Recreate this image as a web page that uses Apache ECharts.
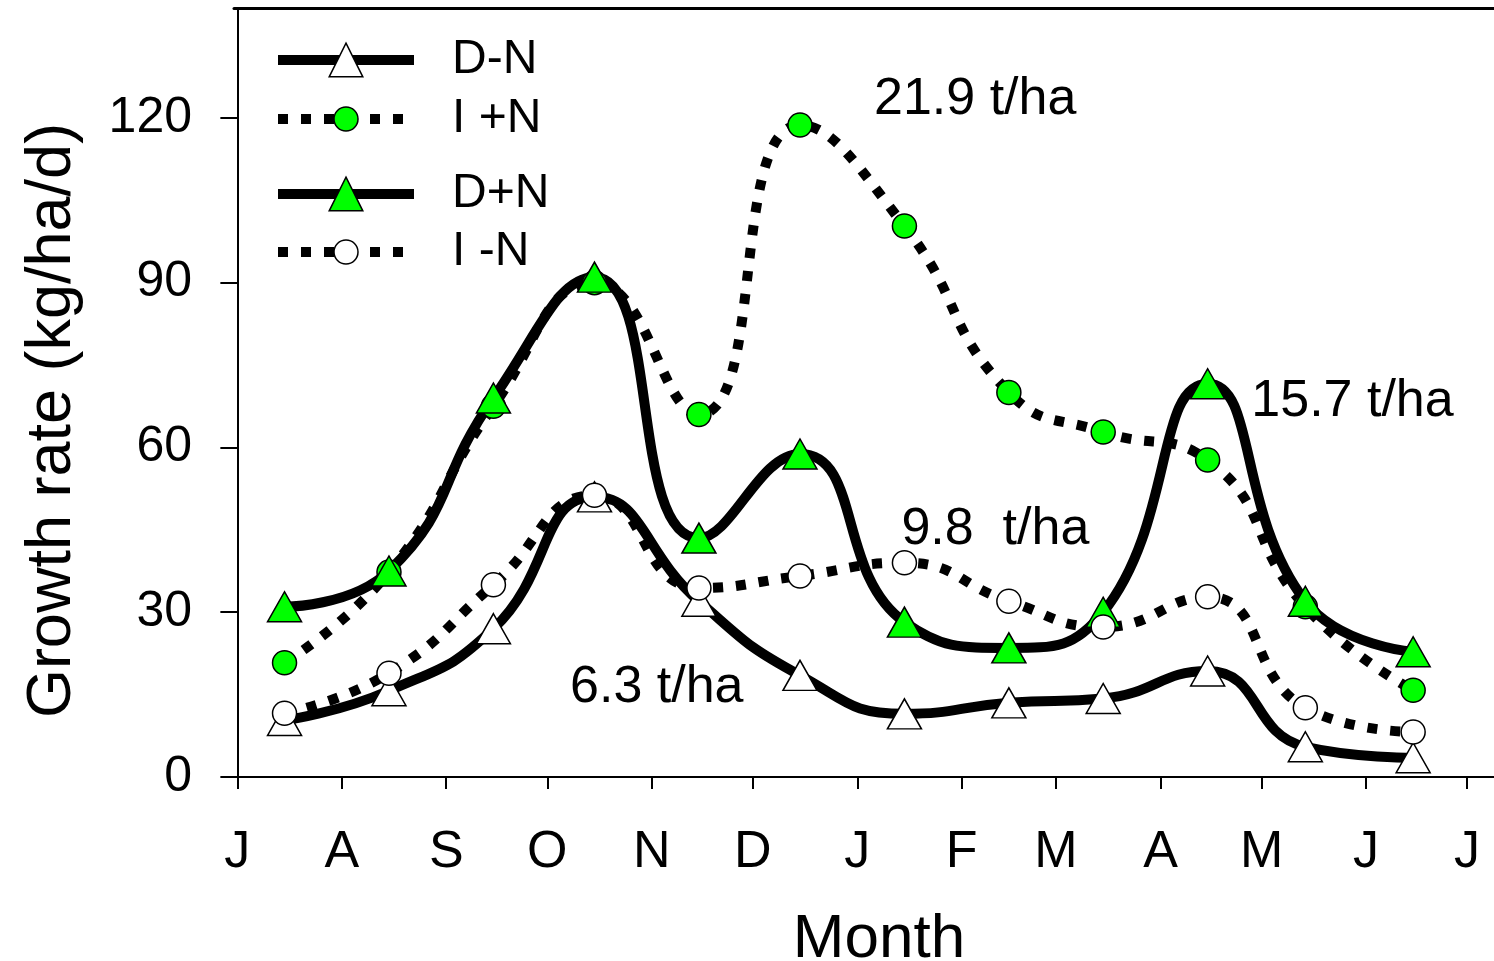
<!DOCTYPE html>
<html>
<head>
<meta charset="utf-8">
<script src="https://cdn.jsdelivr.net/npm/echarts@6/dist/echarts.min.js"></script>
<style>
  html, body { margin: 0; padding: 0; background: #fff; }
  #chart { width: 1494px; height: 961px; }
</style>
</head>
<body>
<div id="chart"></div>
<script>
// day of year counted from 1 July
var days = [14, 45, 76, 106, 137, 167, 198, 229, 257, 288, 317, 349];
var dMinusN = [10.3, 15.7, 27, 51, 32, 18.5, 11.5, 13.5, 14.3, 19.3, 5.5, 3.5];
var iPlusN = [20.8, 37.3, 67.5, 90, 66, 118.7, 100.3, 70, 62.8, 57.7, 31, 15.8];
var dPlusN = [31, 37.5, 69, 91, 43.5, 58.8, 28.2, 23.5, 30, 71.6, 32, 22.8];
var iMinusN = [11.6, 18.9, 35, 51.3, 34.4, 36.6, 39, 32, 27.3, 32.8, 12.6, 8.2];

var monthStarts = [0, 31, 62, 92, 123, 153, 184, 215, 243, 274, 304, 335, 365];
var monthLabels = ['J', 'A', 'S', 'O', 'N', 'D', 'J', 'F', 'M', 'A', 'M', 'J', 'J'];
var yTicks = [0, 30, 60, 90, 120];

var annoText = ['21.9 t/ha', '15.7 t/ha', '9.8  t/ha', '6.3 t/ha'];
var annoX = [219, 331, 225, 124.5];
var annoY = [123.3, 68.3, 45, 16.2];

var font = "'Liberation Sans', Arial, sans-serif";
var green = '#00FF00';

function pairs(ys) {
    return ys.map(function (v, i) { return [days[i], v]; });
}

function makeSeries(name, ys, symbol, fill, dotted) {
    return {
        name: name,
        type: 'line',
        data: pairs(ys),
        smooth: 0.5,
        symbol: symbol,
        symbolSize: symbol == 'triangle' ? [34, 30] : 24,
        showAllSymbol: true,
        lineStyle: {
            color: '#000',
            width: 10,
            type: dotted ? [10, 13] : 'solid',
            cap: 'butt'
        },
        itemStyle: { color: fill, borderColor: '#000', borderWidth: 1.5 },
        emphasis: { disabled: true },
        z: 2
    };
}

function legendFor(name, top, h) {
    return {
        data: [name],
        left: 273,
        top: top,
        padding: 0,
        itemWidth: 136,
        itemHeight: h,
        selectedMode: false,
        itemStyle: { borderWidth: 1.5, borderColor: '#000' },
        lineStyle: { width: 10 },
        textStyle: { fontFamily: font, fontSize: 48, color: '#000', padding: [0, 0, 0, 33] }
    };
}

var series = [
    makeSeries('D-N', dMinusN, 'triangle', '#fff', false),
    makeSeries('I +N', iPlusN, 'circle', green, true),
    makeSeries('D+N', dPlusN, 'triangle', green, false),
    makeSeries('I -N', iMinusN, 'circle', '#fff', true)
];

series[0].markPoint = {
    symbol: 'circle',
    symbolSize: 0,
    silent: true,
    label: {
        show: true,
        position: 'inside',
        fontFamily: font,
        fontSize: 52,
        color: '#000',
        formatter: function (p) { return p.name; }
    },
    data: annoText.map(function (t, i) {
        return { name: t, coord: [annoX[i], annoY[i]] };
    })
};

var myChart = echarts.init(document.getElementById('chart'));
var option = {
    animation: false,
    backgroundColor: '#fff',
    grid: { left: 234, right: 0, top: 8, bottom: 184, containLabel: false, outerBoundsMode: 'none' },
    legend: [
        legendFor('D-N', 36, 42),
        legendFor('I +N', 95, 30),
        legendFor('D+N', 170, 42),
        legendFor('I -N', 228, 30)
    ],
    xAxis: [{
        type: 'value',
        min: -1,
        max: 373,
        name: 'Month',
        nameLocation: 'middle',
        nameGap: 132,
        nameTextStyle: { fontFamily: font, fontSize: 62, color: '#000', padding: [0, 0, 0, 30] },
        axisLine: { onZero: false, lineStyle: { color: '#000', width: 2 } },
        axisTick: { show: true, customValues: monthStarts, length: 12, lineStyle: { color: '#000', width: 2 } },
        axisLabel: {
            customValues: monthStarts,
            margin: 50,
            fontFamily: font,
            fontSize: 52,
            color: '#000',
            formatter: function (v) { return monthLabels[monthStarts.indexOf(v)]; }
        },
        splitLine: { show: false }
    }, {
        type: 'value',
        position: 'top',
        min: -1,
        max: 373,
        axisLine: { show: true, onZero: false, lineStyle: { color: '#000', width: 3 } },
        axisTick: { show: false },
        axisLabel: { show: false },
        splitLine: { show: false }
    }],
    yAxis: {
        type: 'value',
        min: 0,
        max: 140,
        name: 'Growth rate (kg/ha/d)',
        nameLocation: 'middle',
        nameGap: 150,
        nameTextStyle: { fontFamily: font, fontSize: 63, color: '#000', padding: [0, 56, 0, 0] },
        axisLine: { show: true, lineStyle: { color: '#000', width: 2 } },
        axisTick: { show: true, customValues: yTicks, length: 17, lineStyle: { color: '#000', width: 2 } },
        axisLabel: { customValues: yTicks, margin: 42, fontFamily: font, fontSize: 50, color: '#000' },
        splitLine: { show: false }
    },
    series: series
};
myChart.setOption(option);
</script>
</body>
</html>
